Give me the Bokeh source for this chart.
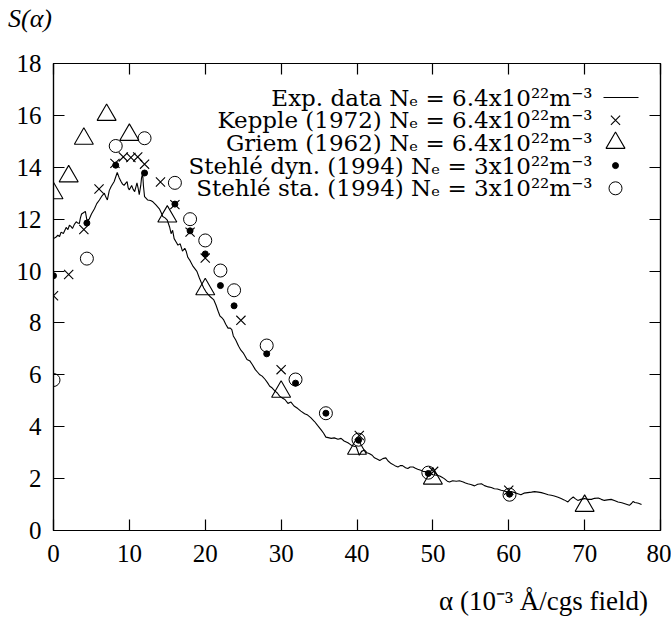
from bokeh.plotting import figure
from bokeh.models import Range1d, LinearAxis, FixedTicker, Label, Div
from bokeh.layouts import column
from bokeh.embed import file_html
from bokeh.resources import INLINE

# ---------------- data ----------------
exp_x = [0.0, 0.3, 0.57, 0.8, 1.0, 1.3, 1.67, 1.9, 2.1, 2.3, 2.5, 2.75, 3.0, 3.2, 3.4, 3.55, 3.7, 3.95,
         4.2, 4.4, 4.7, 5.0, 5.4, 5.7, 6.05, 6.4, 6.7, 6.9, 7.1, 7.35, 7.6, 8.0, 8.4, 8.65, 8.9, 9.1,
         9.3, 9.5, 9.7, 9.85, 10.0, 10.3, 10.5, 10.7, 11.0, 11.15, 11.3, 11.5, 11.6, 11.75, 11.85, 12.0,
         12.4, 12.8, 13.1, 13.5, 13.95, 14.2, 14.4, 14.7, 15.0, 15.3, 15.5, 15.7, 15.9, 16.2, 16.4, 16.7,
         17.0, 17.3, 17.5, 17.7, 18.0, 18.4, 18.9, 19.2, 19.5, 19.8, 20.1, 20.4, 20.7, 21.1, 21.4, 21.7,
         21.95, 22.2, 22.4, 22.7, 23.0, 23.3, 23.5, 23.7, 24.0, 24.4, 24.7, 25.0, 25.3, 25.5, 25.9, 26.2,
         26.6, 26.9, 27.2, 27.5, 27.9, 28.2, 28.5, 28.8, 29.2, 29.5, 29.8, 30.2, 30.5, 30.9, 31.3, 31.7,
         32.2, 32.6, 33.1, 33.5, 33.9, 34.4, 34.8, 35.3, 35.6, 35.9, 36.2, 36.6, 37.0, 37.5, 37.9, 38.3,
         38.8, 39.2, 39.6, 39.9, 40.3, 40.6, 41.0, 41.3, 41.6, 42.0, 42.3, 42.7, 43.0, 43.4, 43.8, 44.1,
         44.5, 45.0, 45.4, 45.7, 46.0, 46.4, 46.7, 47.0, 47.4, 47.7, 48.0, 48.4, 48.7, 49.0, 49.3, 49.7,
         50.0, 50.5, 50.9, 51.2, 51.5, 51.9, 52.2, 52.6, 53.1, 53.5, 54.0, 54.3, 54.6, 55.0, 55.5, 55.9,
         56.4, 56.8, 57.3, 57.7, 58.1, 58.5, 59.0, 59.4, 59.9, 60.3, 60.8, 61.2, 61.6, 62.0, 62.5, 63.0,
         63.4, 63.9, 64.3, 64.8, 65.2, 65.6, 66.0, 66.5, 66.9, 67.3, 67.8, 68.1, 68.5, 68.8, 69.1, 69.5,
         70.0, 70.4, 70.9, 71.3, 71.8, 72.2, 72.6, 73.0, 73.5, 74.0, 74.4, 74.9, 75.3, 75.6, 75.9, 76.2,
         76.4, 76.6, 76.8, 77.1, 77.5]
exp_y = [11.25, 11.3, 11.38, 11.33, 11.5, 11.45, 11.68, 11.6, 11.77, 11.72, 11.64, 11.8, 11.9, 11.85,
         11.83, 12.05, 12.2, 12.25, 12.3, 11.96, 12.0, 12.2, 12.4, 12.6, 12.74, 12.9, 13.0, 12.85, 12.74,
         13.1, 13.26, 13.45, 13.8, 13.6, 13.45, 13.35, 13.3, 13.38, 13.45, 13.2, 13.13, 13.3, 13.15, 13.06,
         13.4, 13.2, 12.94, 13.3, 13.58, 13.78, 13.3, 12.87, 12.74, 12.72, 12.67, 12.55, 12.4, 12.25, 12.1,
         12.05, 11.96, 11.7, 11.44, 11.57, 11.25, 11.1, 11.0, 11.05, 10.77, 10.88, 10.75, 10.53, 10.4,
         10.18, 9.99, 9.75, 9.54, 9.35, 9.2, 9.09, 9.0, 8.9, 8.7, 8.45, 8.26, 8.2, 8.13, 7.95, 7.8, 7.8,
         7.74, 7.5, 7.35, 7.1, 6.95, 6.85, 6.7, 6.59, 6.53, 6.4, 6.2, 6.1, 6.0, 5.95, 5.82, 5.7, 5.56, 5.5,
         5.37, 5.3, 5.18, 5.1, 5.05, 4.9, 4.95, 4.8, 4.7, 4.6, 4.5, 4.45, 4.35, 4.2, 4.05, 3.87, 3.75,
         3.6, 3.58, 3.55, 3.57, 3.52, 3.55, 3.45, 3.38, 3.3, 3.25, 3.23, 2.9, 3.05, 3.1, 3.0, 2.97, 2.9,
         2.8, 2.75, 2.7, 2.77, 2.8, 2.68, 2.58, 2.5, 2.45, 2.5, 2.5, 2.42, 2.39, 2.45, 2.45, 2.4, 2.36,
         2.32, 2.28, 2.27, 2.23, 2.2, 2.15, 2.13, 2.1, 2.05, 2.0, 1.9, 1.87, 1.92, 1.9, 1.92, 1.87, 1.83,
         1.8, 1.77, 1.72, 1.78, 1.8, 1.73, 1.68, 1.66, 1.61, 1.6, 1.55, 1.52, 1.48, 1.5, 1.46, 1.42, 1.38,
         1.44, 1.46, 1.48, 1.5, 1.48, 1.46, 1.42, 1.38, 1.36, 1.33, 1.28, 1.23, 1.18, 1.1, 1.2, 1.29,
         1.22, 1.16, 1.2, 1.23, 1.2, 1.2, 1.24, 1.25, 1.2, 1.16, 1.18, 1.2, 1.15, 1.1, 1.07, 1.03, 1.0,
         0.97, 1.05, 1.12, 1.08, 1.07, 1.05, 1.0]

kepple_x = [0, 2, 4, 6, 8.1, 9.2, 10.2, 11.1, 12.0, 14.1, 16.0, 18.0, 20.0, 24.7, 30.0, 40.3, 50.1, 60.0]
kepple_y = [9.05, 9.87, 11.6, 13.16, 14.15, 14.4, 14.38, 14.4, 14.12, 13.43, 12.56, 11.5, 10.5, 8.1,
            6.2, 3.66, 2.28, 1.55]

griem_x = [0, 2, 4, 7, 10, 15, 20, 30, 40, 50, 70]
griem_y = [13.0, 13.65, 15.1, 16.02, 15.25, 12.1, 9.3, 5.35, 3.15, 2.0, 0.95]

dyn_x = [0, 4.4, 8.2, 12.0, 16.0, 18.0, 20.0, 22.0, 23.8, 28.1, 31.9, 35.9, 40.2, 49.4, 60.1]
dyn_y = [9.82, 11.85, 14.08, 13.78, 12.58, 11.55, 10.66, 9.44, 8.66, 6.81, 5.68, 4.52, 3.48, 2.2, 1.4]

sta_x = [0, 4.4, 8.2, 12.0, 16.0, 18.0, 20.0, 22.0, 23.8, 28.1, 31.9, 35.9, 40.2, 49.4, 60.1]
sta_y = [5.8, 10.48, 14.82, 15.12, 13.4, 12.0, 11.18, 10.02, 9.26, 7.13, 5.82, 4.52, 3.5, 2.23, 1.38]

x_ticks = [0, 10, 20, 30, 40, 50, 60, 70, 80]
y_ticks = [0, 2, 4, 6, 8, 10, 12, 14, 16, 18]

legend_labels = [
    "Exp. data Nₑ = 6.4x10²²m⁻³",
    "Kepple (1972) Nₑ = 6.4x10²²m⁻³",
    "Griem (1962) Nₑ = 6.4x10²²m⁻³",
    "Stehlé dyn. (1994) Nₑ = 3x10²²m⁻³",
    "Stehlé sta. (1994) Nₑ = 3x10²²m⁻³",
]
x_label = "α (10⁻³ Å/cgs field)"
y_label = "S(α)"

# ---------------- layout constants (pixels) ----------------
W = 671
TOP_H, FIG_H, BOT_H = 35, 545, 37
B_LEFT, B_RIGHT, B_TOP, B_BOTTOM = 53, 11, 28, 50
X0, X1, Y0, Y1 = 0, 80, 0, 18
FRAME_W = W - B_LEFT - B_RIGHT
FRAME_H = FIG_H - B_TOP - B_BOTTOM

def dx(px):  # horizontal pixel distance -> data units
    return px * (X1 - X0) / FRAME_W

def dy(px):  # vertical pixel distance -> data units
    return px * (Y1 - Y0) / FRAME_H

FONT = "'Liberation Serif', serif"
LEG_FONT = "'DejaVu Serif', serif"
FS = "25px"

p = figure(width=W, height=FIG_H, output_backend="svg", toolbar_location=None,
           x_range=Range1d(X0, X1), y_range=Range1d(Y0, Y1),
           min_border_left=B_LEFT, min_border_right=B_RIGHT,
           min_border_top=B_TOP, min_border_bottom=B_BOTTOM, margin=0)
p.grid.visible = False
p.outline_line_color = "black"
p.outline_line_width = 1.2
p.background_fill_color = "white"
p.border_fill_color = "white"

def style_axis(ax, ticks, labels=True):
    ax.ticker = FixedTicker(ticks=ticks)
    ax.major_tick_in = 11
    ax.major_tick_out = 0
    ax.minor_tick_line_color = None
    ax.axis_line_color = "black"
    ax.axis_line_width = 1.2
    ax.major_tick_line_width = 1.2
    ax.major_label_text_font = FONT
    if labels:
        ax.major_label_text_font_size = FS
        ax.major_label_text_color = "black"
    else:
        ax.major_label_text_font_size = "1px"
        ax.major_label_text_color = None
        ax.major_label_standoff = 0

style_axis(p.xaxis[0], x_ticks)
p.xaxis[0].major_label_standoff = 14
style_axis(p.yaxis[0], y_ticks)
p.yaxis[0].major_label_standoff = 12

top = LinearAxis()
style_axis(top, x_ticks, labels=False)
p.add_layout(top, "above")
right = LinearAxis()
style_axis(right, y_ticks, labels=False)
p.add_layout(right, "right")

# ---------------- series ----------------
p.line(exp_x, exp_y, line_color="black", line_width=1.1)
p.scatter(kepple_x, kepple_y, marker="x", size=13, line_color="black", line_width=1.1)
p.scatter(griem_x, griem_y, marker="triangle", size=19, line_color="black", line_width=1.1,
          fill_color=None)
p.scatter(dyn_x, dyn_y, marker="circle", size=6, line_color="black", fill_color="black")
p.scatter(sta_x, sta_y, marker="circle", size=13, line_color="black", line_width=1.0,
          fill_color=None)

# ---------------- legend (text right-aligned, symbol after it) ----------------
leg_text_x = X1 - dx(68)
leg_sym_x = X1 - dx(45)
leg_y0 = Y1 - dy(34)
leg_step = dy(22.7)
ly = [leg_y0 - i * leg_step for i in range(len(legend_labels))]
for lab, yy in zip(legend_labels, ly):
    p.add_layout(Label(x=leg_text_x, y=yy, text=lab, text_align="right", text_baseline="middle",
                       text_font=LEG_FONT, text_font_size="23px", text_color="black"))
p.line([leg_sym_x - dx(12), leg_sym_x + dx(23)], [ly[0], ly[0]], line_color="black", line_width=1.1)
p.scatter([leg_sym_x], [ly[1]], marker="x", size=13, line_color="black", line_width=1.1)
p.scatter([leg_sym_x], [ly[2]], marker="triangle", size=19, line_color="black", line_width=1.1,
          fill_color=None)
p.scatter([leg_sym_x], [ly[3]], marker="circle", size=6, line_color="black", fill_color="black")
p.scatter([leg_sym_x], [ly[4]], marker="circle", size=13, line_color="black", fill_color=None)

# ---------------- axis captions as text blocks above / below the figure ----------------
top_div = Div(
    text=('<div style="padding:4px 0 0 8px; font-family:\'Liberation Serif\', serif; '
          'font-size:26px; font-style:italic; line-height:30px; color:black; white-space:nowrap;">'
          + y_label + '</div>'),
    width=W, height=TOP_H, margin=0)
bot_div = Div(
    text=('<div style="width:' + str(W - 23) + 'px; padding-top:6px; text-align:right; '
          'font-family:\'Liberation Serif\', serif; font-size:27px; line-height:30px; '
          'color:black; white-space:nowrap;">' + x_label + '</div>'),
    width=W, height=BOT_H, margin=0)

layout = column(top_div, p, bot_div, spacing=0, margin=0)

open("out.html", "w").write(file_html(layout, INLINE))
